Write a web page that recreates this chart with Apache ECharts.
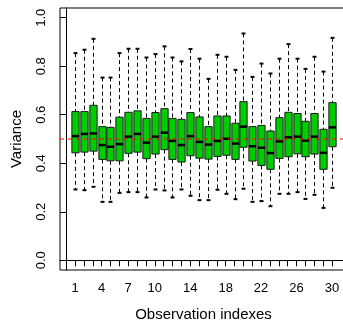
<!DOCTYPE html>
<html>
<head>
<meta charset="utf-8">
<script src="https://cdn.jsdelivr.net/npm/echarts@6/dist/echarts.min.js"></script>
<style>
  html, body { margin: 0; padding: 0; background: #fff; }
  #main { width: 343px; height: 320px; }
</style>
</head>
<body>
<div id="main"></div>
<script>
// values, one entry per observation index
var obsIndex = [1, 2, 3, 4, 5, 6, 7, 8, 9, 10, 11, 12, 13, 14, 15,
                16, 17, 18, 19, 20, 21, 22, 23, 24, 25, 26, 27, 28, 29, 30];
var whiskerLow = [0.292, 0.289, 0.303, 0.241, 0.241, 0.278, 0.281, 0.281, 0.259, 0.292,
                  0.288, 0.259, 0.292, 0.266, 0.248, 0.248, 0.291, 0.274, 0.252, 0.295,
                  0.241, 0.244, 0.223, 0.274, 0.274, 0.281, 0.253, 0.270, 0.216, 0.299];
var lowerQuartile = [0.443, 0.446, 0.450, 0.416, 0.410, 0.410, 0.441, 0.446, 0.419, 0.438,
                     0.456, 0.416, 0.405, 0.431, 0.421, 0.417, 0.428, 0.433, 0.416, 0.466,
                     0.409, 0.391, 0.375, 0.420, 0.427, 0.439, 0.427, 0.438, 0.375, 0.468];
var medians = [0.512, 0.521, 0.523, 0.475, 0.468, 0.479, 0.510, 0.521, 0.485, 0.510,
               0.526, 0.492, 0.475, 0.512, 0.488, 0.477, 0.492, 0.501, 0.481, 0.551,
               0.470, 0.464, 0.442, 0.490, 0.507, 0.510, 0.493, 0.510, 0.443, 0.548];
var upperQuartile = [0.613, 0.613, 0.639, 0.551, 0.548, 0.590, 0.610, 0.616, 0.585, 0.609,
                     0.625, 0.585, 0.581, 0.609, 0.591, 0.551, 0.595, 0.595, 0.565, 0.654,
                     0.551, 0.556, 0.533, 0.588, 0.610, 0.605, 0.573, 0.605, 0.540, 0.650];
var whiskerHigh = [0.854, 0.868, 0.913, 0.753, 0.753, 0.854, 0.872, 0.872, 0.836, 0.850,
                   0.882, 0.836, 0.820, 0.871, 0.831, 0.748, 0.847, 0.839, 0.785, 0.935,
                   0.756, 0.811, 0.770, 0.831, 0.891, 0.831, 0.789, 0.839, 0.778, 0.917];
var xTickLabels = [1, 4, 7, 10, 14, 18, 22, 26, 30];
var yTickValues = [0, 0.2, 0.4, 0.6, 0.8, 1.0];
var refLevel = 0.5;

var xMin = -0.7, xMax = 31.7;

var boxData = obsIndex.map(function (x, i) {
    return [x, whiskerLow[i], lowerQuartile[i], medians[i], upperQuartile[i], whiskerHigh[i]];
});

function renderBox(params, api) {
    var x = api.value(0);
    var pLo = api.coord([x, api.value(1)]);
    var pQ1 = api.coord([x, api.value(2)]);
    var pMed = api.coord([x, api.value(3)]);
    var pQ3 = api.coord([x, api.value(4)]);
    var pHi = api.coord([x, api.value(5)]);
    var hw = api.size([0.41, 0])[0];   // half box width
    var sw = api.size([0.22, 0])[0];   // half staple width
    var cx = Math.round(pMed[0]) + 0.5;
    var dash = { stroke: '#000', lineWidth: 1, lineDash: [4, 3] };
    var cap = { stroke: '#000', lineWidth: 2 };
    return {
        type: 'group',
        children: [
            { type: 'line', shape: { x1: cx, y1: pHi[1], x2: cx, y2: pQ3[1] }, style: dash },
            { type: 'line', shape: { x1: cx, y1: pQ1[1], x2: cx, y2: pLo[1] }, style: dash },
            { type: 'line', shape: { x1: cx - sw, y1: pHi[1], x2: cx + sw, y2: pHi[1] }, style: cap },
            { type: 'line', shape: { x1: cx - sw, y1: pLo[1], x2: cx + sw, y2: pLo[1] }, style: cap },
            {
                type: 'rect',
                shape: { x: cx - hw, y: pQ3[1], width: hw * 2, height: pQ1[1] - pQ3[1] },
                style: { fill: '#00cd00', stroke: '#1a1a1a', lineWidth: 1 }
            },
            { type: 'line', shape: { x1: cx - hw, y1: pMed[1], x2: cx + hw, y2: pMed[1] },
              style: { stroke: '#000', lineWidth: 2.5 } }
        ]
    };
}

var font = 'Liberation Sans, Arial, sans-serif';

var option = {
    animation: false,
    grid: {
        left: 60, right: -4, top: 8, bottom: 50,
        show: true, borderColor: '#000', borderWidth: 1,
        outerBoundsMode: 'none'
    },
    xAxis: {
        type: 'value',
        min: xMin, max: xMax,
        name: 'Observation indexes',
        nameLocation: 'middle',
        nameGap: 37,
        nameTextStyle: { color: '#000', fontFamily: font, fontSize: 15 },
        axisLine: { show: true, lineStyle: { color: '#000' } },
        axisTick: { show: true, length: 6, customValues: obsIndex, lineStyle: { color: '#000' } },
        axisLabel: { customValues: xTickLabels, color: '#000', fontFamily: font, fontSize: 13, margin: 12 },
        splitLine: { show: false }
    },
    yAxis: {
        type: 'value',
        min: -0.04, max: 1.04,
        name: 'Variance',
        nameLocation: 'middle',
        nameRotate: 90,
        nameGap: 36,
        nameTextStyle: { color: '#000', fontFamily: font, fontSize: 15 },
        axisLine: { show: true, lineStyle: { color: '#000' } },
        axisTick: { show: true, length: 6, customValues: yTickValues, lineStyle: { color: '#000' } },
        axisLabel: {
            customValues: yTickValues, rotate: 90, color: '#000', fontFamily: font, fontSize: 13, margin: 12,
            formatter: function (v) { return v.toFixed(1); }
        },
        splitLine: { show: false }
    },
    series: [
        {
            type: 'custom',
            renderItem: renderBox,
            data: boxData,
            encode: { x: 0, y: [1, 2, 3, 4, 5] }
        },
        {
            // dashed reference line across the plot
            type: 'line',
            z: 5,
            silent: true,
            symbol: 'none',
            lineStyle: { color: '#ff0000', type: [4, 4], width: 1 },
            data: [[xMin, refLevel], [xMax, refLevel]]
        }
    ]
};

var myChart = echarts.init(document.getElementById('main'));
myChart.setOption(option);
</script>
</body>
</html>
